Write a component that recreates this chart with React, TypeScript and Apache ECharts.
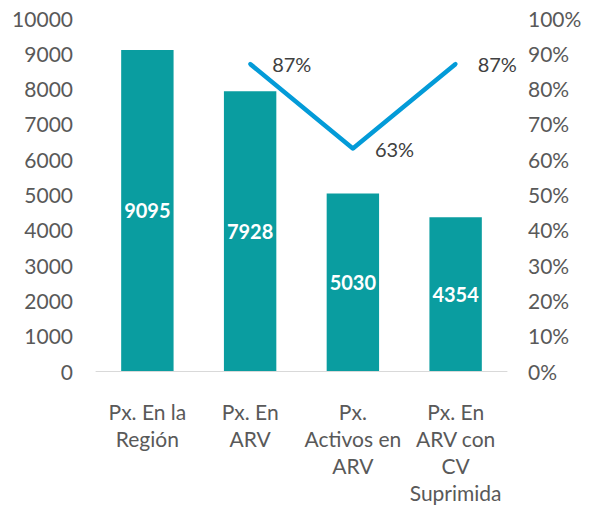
import React, { useEffect, useRef } from "react";
import * as echarts from "echarts";

const categories = ["Px. En la\nRegión", "Px. En\nARV", "Px.\nActivos en\nARV", "Px. En\nARV con\nCV\nSuprimida"];
const patients = [9095, 7928, 5030, 4354];
const percentages = [null, 0.87, 0.63, 0.87];

export default function App() {
  const ref = useRef<HTMLDivElement>(null);
  useEffect(() => {
    document.body.style.margin = "0";
    const chart = echarts.init(ref.current!, null, { renderer: "svg" });
    const font = "Lato";
    chart.setOption({
      animation: false,
      grid: { left: 96, right: 86, top: 18, bottom: 133, containLabel: false },
      xAxis: {
        type: "category",
        data: categories,
        axisLine: { lineStyle: { color: "#d9d9d9", width: 1 } },
        axisTick: { show: false },
        axisLabel: {
          color: "#595959",
          fontFamily: font,
          fontSize: 21,
          lineHeight: 27,
          margin: 27,
          interval: 0,
        },
      },
      yAxis: [
        {
          type: "value",
          min: 0,
          max: 10000,
          interval: 1000,
          splitLine: { show: false },
          axisLine: { show: false },
          axisTick: { show: false },
          axisLabel: {
            color: "#595959",
            fontFamily: font,
            fontSize: 21,
            margin: 23,
            formatter: (v: number) => String(v),
          },
        },
        {
          type: "value",
          min: 0,
          max: 1,
          interval: 0.1,
          splitLine: { show: false },
          axisLine: { show: false },
          axisTick: { show: false },
          axisLabel: {
            color: "#595959",
            fontFamily: font,
            fontSize: 21,
            margin: 21,
            formatter: (v: number) => Math.round(v * 100) + "%",
          },
        },
      ],
      series: [
        {
          type: "bar",
          data: patients,
          barWidth: "51%",
          itemStyle: { color: "#0A9DA0" },
          label: {
            show: true,
            position: "inside",
            color: "#ffffff",
            fontFamily: font,
            fontWeight: "bold",
            fontSize: 20,
          },
        },
        {
          type: "line",
          yAxisIndex: 1,
          data: percentages,
          showSymbol: true,
          symbol: "circle",
          symbolSize: 4,
          itemStyle: { color: "#039BD8" },
          lineStyle: { color: "#039BD8", width: 4.5 },
          label: {
            show: true,
            position: "right",
            distance: 20,
            color: "#404040",
            fontFamily: font,
            fontSize: 20,
            formatter: (p: any) => Math.round(p.value * 100) + "%",
          },
        },
      ],
    });
    return () => chart.dispose();
  }, []);
  return <div ref={ref} style={{ width: 593, height: 506 }} />;
}
